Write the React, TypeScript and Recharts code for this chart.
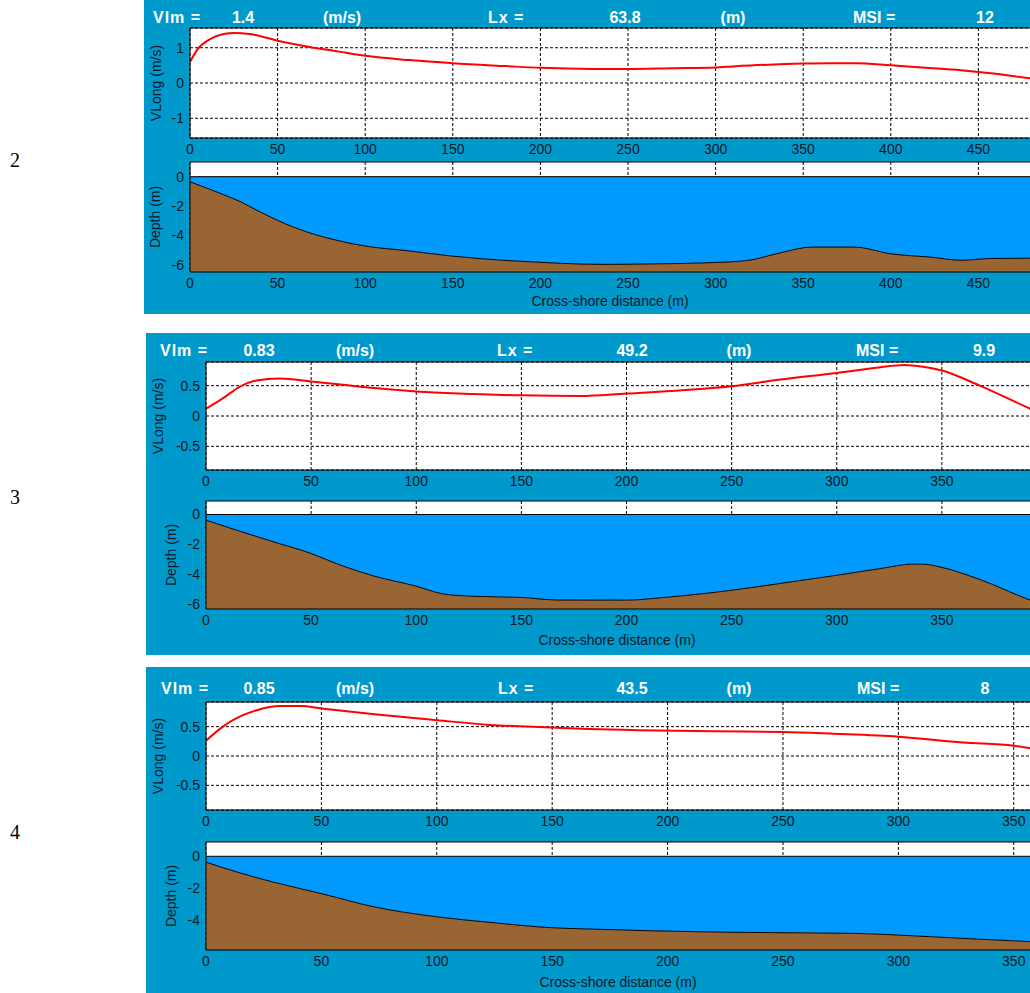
import React from 'react'
import {
  LineChart,
  Line,
  AreaChart,
  Area,
  XAxis,
  YAxis,
  CartesianGrid,
  ReferenceLine,
} from 'recharts'

// profile 2
const velX2 = [0, 5, 10, 15, 20, 25, 35, 50, 65, 85, 100, 125, 150, 180, 200, 230, 250, 275, 300, 310, 330, 350, 365, 380, 400, 420, 440, 460, 480, 500]
const vLong2 = [0.6, 1.0, 1.2, 1.33, 1.4, 1.42, 1.38, 1.2, 1.05, 0.89, 0.77, 0.65, 0.56, 0.48, 0.43, 0.4, 0.4, 0.42, 0.44, 0.47, 0.52, 0.55, 0.56, 0.56, 0.5, 0.43, 0.36, 0.26, 0.13, 0.02]
const bedX2 = [0, 10, 19, 29, 38, 50, 67, 86, 100, 124, 150, 181, 200, 210, 236, 263, 293, 318, 337, 355, 379, 400, 423, 440, 457, 480, 500]
const depth2 = [-0.35, -0.8, -1.22, -1.72, -2.28, -2.98, -3.78, -4.4, -4.73, -5.05, -5.42, -5.72, -5.84, -5.9, -5.98, -5.95, -5.88, -5.72, -5.19, -4.8, -4.8, -5.26, -5.49, -5.7, -5.58, -5.56, -5.56]

// profile 3
const velX3 = [0, 8, 16, 24, 35, 50, 64, 80, 100, 120, 150, 178, 200, 225, 250, 273, 300, 320, 332, 341, 350, 368, 392, 400]
const vLong3 = [0.12, 0.29, 0.48, 0.585, 0.62, 0.57, 0.52, 0.46, 0.405, 0.37, 0.34, 0.33, 0.37, 0.42, 0.49, 0.6, 0.71, 0.8, 0.84, 0.81, 0.75, 0.5, 0.12, 0.0]
const bedX3 = [0, 16, 32, 50, 64, 80, 100, 113, 127, 150, 167, 200, 218, 250, 273, 300, 321, 336, 341, 350, 368, 392, 400]
const depth3 = [-0.38, -1.11, -1.82, -2.6, -3.38, -4.11, -4.78, -5.3, -5.45, -5.53, -5.7, -5.71, -5.53, -5.05, -4.6, -4.05, -3.6, -3.31, -3.31, -3.53, -4.33, -5.71, -6.1]

// profile 4
const velX4 = [0, 7.6, 15, 22, 32, 41, 50, 73, 100, 123, 150, 166, 187, 220, 250, 272, 300, 328, 350, 357, 380]
const vLong4 = [0.26, 0.51, 0.68, 0.78, 0.85, 0.85, 0.81, 0.71, 0.61, 0.53, 0.485, 0.46, 0.44, 0.42, 0.41, 0.38, 0.33, 0.23, 0.175, 0.13, 0.0]
const bedX4 = [0, 15, 29, 50, 73, 100, 123, 150, 166, 193, 231, 280, 300, 328, 357, 380]
const depth4 = [-0.37, -1.06, -1.62, -2.35, -3.19, -3.81, -4.16, -4.5, -4.58, -4.69, -4.79, -4.85, -4.96, -5.17, -5.37, -5.5]

const xTicks2 = [0, 50, 100, 150, 200, 250, 300, 350, 400, 450]
const xTicks34 = [0, 50, 100, 150, 200, 250, 300, 350]
const velTicks2 = [-1, 0, 1]
const velTicks34 = [-0.5, 0, 0.5]
const depthTicks23 = [-6, -4, -2, 0]
const depthTicks4 = [-4, -2, 0]

const profileNames = ['2', '3', '4']
const vlmValues = ['1.4', '0.83', '0.85']
const lxValues = ['63.8', '49.2', '43.5']
const msiValues = ['12', '9.9', '8']

const TEAL = '#0099cc'
const WATER = '#0099ff'
const SAND = '#996633'
const INK = '#0a1828'
const SANS = 'Arial, "Liberation Sans", Helvetica, sans-serif'
const TICK = { fill: INK, fontSize: 14, fontFamily: SANS }

function VelChart({ xs, vs, left, plotTop, plotH, axisW, pxPerX, xMax, xTicks, yMax, yTicks, labelDx }: any) {
  const data = xs.map((x: number, i: number) => ({ x, v: vs[i] }))
  const mTop = 8
  const axisH = 24
  return (
    <div style={{ position: 'absolute', left, top: plotTop - mTop }}>
      <LineChart
        width={Math.round(axisW + pxPerX * xMax)}
        height={mTop + plotH + axisH}
        data={data}
        margin={{ top: mTop, right: 0, bottom: 0, left: 0 }}
      >
        <CartesianGrid fill="#fff" fillOpacity={1} stroke="#000" strokeDasharray="3 2" />
        <XAxis
          dataKey="x"
          type="number"
          domain={[0, xMax]}
          ticks={xTicks}
          interval={0}
          allowDataOverflow
          height={axisH}
          tick={TICK}
          tickLine={false}
          tickMargin={0}
          axisLine={{ stroke: '#000' }}
        />
        <YAxis
          type="number"
          domain={[-yMax, yMax]}
          ticks={yTicks}
          interval={0}
          allowDataOverflow
          width={axisW}
          tick={TICK}
          tickLine={false}
          tickMargin={0}
          axisLine={{ stroke: '#000' }}
          label={{
            value: 'VLong (m/s)',
            angle: -90,
            position: 'insideLeft',
            offset: labelDx,
            style: { textAnchor: 'middle', fill: INK, fontSize: 14, fontFamily: SANS },
          }}
        />
        <ReferenceLine y={yMax} stroke="#000" />
        <Line dataKey="v" type="monotone" stroke="#ff0000" strokeWidth={2} dot={false} isAnimationActive={false} />
      </LineChart>
    </div>
  )
}

function DepthChart({ xs, ds, left, plotTop, plotH, axisW, pxPerX, xMax, xTicks, yMin, yMax, yTicks, labelDx }: any) {
  const data = xs.map((x: number, i: number) => ({ x, d: ds[i] }))
  const mTop = 2
  const axisH = 24
  return (
    <div style={{ position: 'absolute', left, top: plotTop - mTop }}>
      <AreaChart
        width={Math.round(axisW + pxPerX * xMax)}
        height={mTop + plotH + axisH}
        data={data}
        margin={{ top: mTop, right: 0, bottom: 0, left: 0 }}
      >
        <CartesianGrid horizontal={false} fill="#fff" fillOpacity={1} stroke="#000" strokeDasharray="3 2" />
        <XAxis
          dataKey="x"
          type="number"
          domain={[0, xMax]}
          ticks={xTicks}
          interval={0}
          allowDataOverflow
          height={axisH}
          tick={TICK}
          tickLine={false}
          tickMargin={0}
          axisLine={{ stroke: '#000' }}
        />
        <YAxis
          type="number"
          domain={[yMin, yMax]}
          ticks={yTicks}
          interval={0}
          allowDataOverflow
          width={axisW}
          tick={TICK}
          tickLine={false}
          tickMargin={0}
          axisLine={{ stroke: '#000' }}
          label={{
            value: 'Depth (m)',
            angle: -90,
            position: 'insideLeft',
            offset: labelDx,
            style: { textAnchor: 'middle', fill: INK, fontSize: 14, fontFamily: SANS },
          }}
        />
        {/* sea between bed and still water level, then the bed itself */}
        <Area dataKey="d" type="monotone" baseValue={0} fill={WATER} fillOpacity={1} stroke="none" isAnimationActive={false} />
        <Area dataKey="d" type="monotone" baseValue={yMin} fill={SAND} fillOpacity={1} stroke="#000" strokeWidth={1} isAnimationActive={false} />
        <ReferenceLine y={0} stroke="#000" />
        <ReferenceLine y={yMax} stroke="#000" />
      </AreaChart>
    </div>
  )
}

function Header({ i, y, pos }: { i: number; y: number; pos: number[] }) {
  const base: React.CSSProperties = {
    position: 'absolute',
    top: y - 9,
    lineHeight: '18px',
    color: '#fff',
    fontFamily: SANS,
    fontSize: 16,
    fontWeight: 'bold',
    whiteSpace: 'nowrap',
  }
  const mid = (x: number): React.CSSProperties => ({ ...base, left: x, transform: 'translateX(-50%)' })
  return (
    <>
      <div style={{ ...base, left: pos[0], letterSpacing: 1 }}>Vlm =</div>
      <div style={mid(pos[1])}>{vlmValues[i]}</div>
      <div style={mid(pos[2])}>(m/s)</div>
      <div style={{ ...base, left: pos[3], letterSpacing: 1 }}>Lx =</div>
      <div style={mid(pos[4])}>{lxValues[i]}</div>
      <div style={mid(pos[5])}>(m)</div>
      <div style={{ ...base, left: pos[6] }}>MSI =</div>
      <div style={mid(pos[7])}>{msiValues[i]}</div>
    </>
  )
}

function XTitle({ x, y }: { x: number; y: number }) {
  return (
    <div
      style={{
        position: 'absolute',
        left: x,
        top: y - 9,
        lineHeight: '18px',
        transform: 'translateX(-50%)',
        color: INK,
        fontFamily: SANS,
        fontSize: 14,
        whiteSpace: 'nowrap',
      }}
    >
      Cross-shore distance (m)
    </div>
  )
}

function SideNum({ i, y }: { i: number; y: number }) {
  return (
    <div
      style={{
        position: 'absolute',
        left: 15,
        top: y - 12,
        lineHeight: '24px',
        transform: 'translateX(-50%)',
        fontFamily: '"Times New Roman", "Liberation Serif", serif',
        fontSize: 20,
        color: '#000',
      }}
    >
      {profileNames[i]}
    </div>
  )
}

export default function App() {
  return (
    <div
      style={{
        position: 'fixed',
        left: 0,
        top: 0,
        width: 1030,
        height: 993,
        overflow: 'hidden',
        background: '#fff',
      }}
    >
      <SideNum i={0} y={160} />
      <SideNum i={1} y={497} />
      <SideNum i={2} y={832} />

      <div style={{ position: 'absolute', left: 144, top: 0, width: 886, height: 314, background: TEAL }} />
      <div style={{ position: 'absolute', left: 146, top: 333, width: 884, height: 322, background: TEAL }} />
      <div style={{ position: 'absolute', left: 146, top: 667, width: 884, height: 326, background: TEAL }} />

      <Header i={0} y={18} pos={[153, 243, 342, 488, 625, 733, 853, 985]} />
      <Header i={1} y={351} pos={[160, 259, 355, 497, 632, 739, 856, 984]} />
      <Header i={2} y={689} pos={[161, 259, 355, 498, 632, 739, 857, 985]} />

      <VelChart xs={velX2} vs={vLong2} left={144} plotTop={28} plotH={110} axisW={46} pxPerX={1.751} xMax={500} xTicks={xTicks2} yMax={1.56} yTicks={velTicks2} labelDx={12} />
      <DepthChart xs={bedX2} ds={depth2} left={144} plotTop={162} plotH={110} axisW={46} pxPerX={1.751} xMax={500} xTicks={xTicks2} yMin={-6.5} yMax={1} yTicks={depthTicks23} labelDx={11} />
      <XTitle x={610} y={301} />

      <VelChart xs={velX3} vs={vLong3} left={146} plotTop={362} plotH={108} axisW={60} pxPerX={2.103} xMax={400} xTicks={xTicks34} yMax={0.89} yTicks={velTicks34} labelDx={12} />
      <DepthChart xs={bedX3} ds={depth3} left={146} plotTop={501} plotH={108} axisW={60} pxPerX={2.103} xMax={400} xTicks={xTicks34} yMin={-6.3} yMax={0.9} yTicks={depthTicks23} labelDx={25} />
      <XTitle x={617} y={640} />

      <VelChart xs={velX4} vs={vLong4} left={146} plotTop={702} plotH={108} axisW={60} pxPerX={2.309} xMax={380} xTicks={xTicks34} yMax={0.92} yTicks={velTicks34} labelDx={12} />
      <DepthChart xs={bedX4} ds={depth4} left={146} plotTop={842} plotH={108} axisW={60} pxPerX={2.309} xMax={380} xTicks={xTicks34} yMin={-5.9} yMax={0.9} yTicks={depthTicks4} labelDx={25} />
      <XTitle x={618} y={982} />
    </div>
  )
}
